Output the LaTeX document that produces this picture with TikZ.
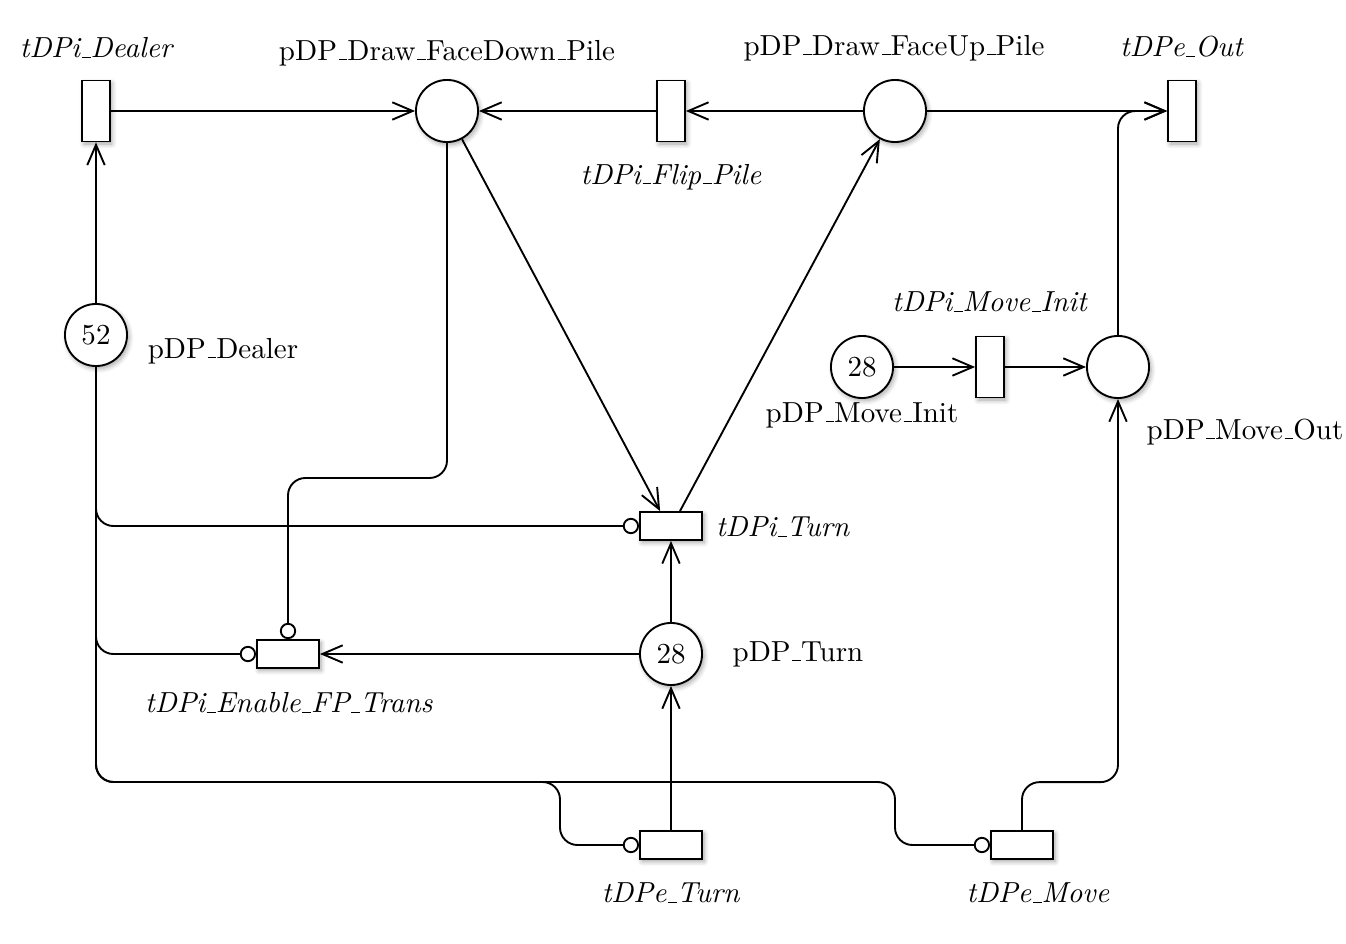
\documentclass[tikz,border=0pt]{standalone}
\usetikzlibrary{arrows.meta,shadows.blur,calc}
\newcommand{\us}{\leavevmode\kern.06em\vbox{\hrule width.3em}}
\begin{document}
\begin{tikzpicture}[x=0.01212cm,y=-0.01212cm,
  line width=0.65pt,
  shad/.style={blur shadow={shadow blur steps=6, shadow xshift=0.7pt, shadow yshift=-0.9pt, shadow blur radius=1.6pt, shadow opacity=35}},
  place/.style={circle,draw,fill=white,minimum size=21.4pt,inner sep=0pt,shad},
  vtrans/.style={rectangle,draw,fill=white,minimum width=9.6pt,minimum height=21pt,inner sep=0pt,shad},
  htrans/.style={rectangle,draw,fill=white,minimum width=21.4pt,minimum height=9.6pt,inner sep=0pt,shad},
  lbl/.style={inner sep=0pt,anchor=center},
  arc/.style={-{Straight Barb[length=7pt,width=6pt]}},
  inh/.style={-{Circle[open,length=5.6pt,width=5.6pt]}},
  route/.style={rounded corners=6pt}]
\useasboundingbox (0,0) rectangle (1346,944);

% places
\node[place] (fd) at (447,111) {};
\node[place] (fu) at (895,111) {};
\node[place] (pd) at (96,335) {52};
\node[place] (mi) at (862,367) {28};
\node[place] (mo) at (1118,367) {};
\node[place] (pt) at (671,654) {28};

% transitions
\node[vtrans] (td) at (96,111) {};
\node[vtrans] (tf) at (671,111) {};
\node[vtrans] (to) at (1182,111) {};
\node[vtrans] (tmi) at (990,367) {};
\node[htrans] (tt) at (671,526) {};
\node[htrans] (en) at (288,654) {};
\node[htrans] (te) at (671,845) {};
\node[htrans] (tm) at (1022,845) {};

% labels
\node[lbl] (ltd) at (97,48) {\textit{tDPi\us Dealer}};
\node[lbl] (lfd) at (447,53) {pDP\us Draw\us FaceDown\us Pile};
\node[lbl] (lfu) at (894,48) {pDP\us Draw\us FaceUp\us Pile};
\node[lbl] (lto) at (1182,47) {\textit{tDPe\us Out}};
\node[lbl] (ltf) at (671,177) {\textit{tDPi\us Flip\us Pile}};
\node[lbl] (lpd) at (223,351) {pDP\us Dealer};
\node[lbl] (ltmi) at (990,302) {\textit{tDPi\us Move\us Init}};
\node[lbl] (lmi) at (862,415) {pDP\us Move\us Init};
\node[lbl] (lmo) at (1245,432) {pDP\us Move\us Out};
\node[lbl] (ltt) at (783,527) {\textit{tDPi\us Turn}};
\node[lbl] (lpt) at (798,654) {pDP\us Turn};
\node[lbl] (len) at (289,703) {\textit{tDPi\us Enable\us FP\us Trans}};
\node[lbl] (lte) at (671,893) {\textit{tDPe\us Turn}};
\node[lbl] (ltm) at (1038,893) {\textit{tDPe\us Move}};

% helper coordinates
\coordinate (ttin) at ($(tt.north west)!0.33!(tt.north east)$);
\coordinate (ttout) at ($(tt.north west)!0.64!(tt.north east)$);

% arcs
\draw[arc] (td) -- (fd);
\draw[arc] (pd) -- (td);
\draw[arc] (tf) -- (fd);
\draw[arc] (fu) -- (tf);
\draw[arc] (fu) -- (to);
\draw[arc] (fd) -- (ttin);
\draw[arc] (ttout) -- (fu);
\draw[arc] (pt) -- (tt);
\draw[arc] (pt) -- (en);
\draw[arc] (te) -- (pt);
\draw[arc] (mi) -- (tmi);
\draw[arc] (tmi) -- (mo);
\draw[arc,route] (mo.north) |- (to.west);
\draw[arc,route] (tm.north) -- ++(0,-48) -| (mo.south);

% inhibitor arcs
\draw[inh,route] (fd.south) -- ++(0,335) -| (en.north);
\draw[inh,route] (pd.south) |- (tt.west);
\draw[inh,route] (pd.south) |- (en.west);
\draw[inh,route] (pd.south) |- (560,782) |- (te.west);
\draw[inh,route] (pd.south) |- (895,782) |- (tm.west);
\end{tikzpicture}
\end{document}
